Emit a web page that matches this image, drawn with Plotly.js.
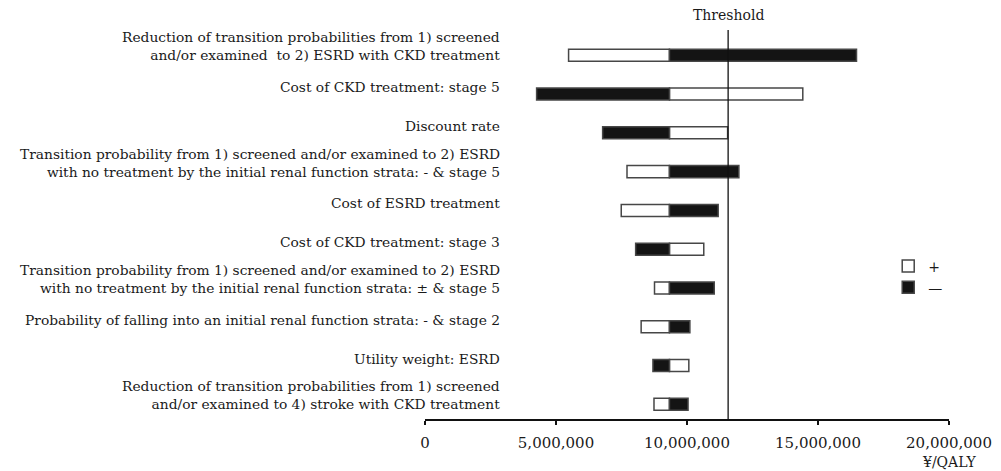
<!DOCTYPE html>
<html>
<head>
<meta charset="utf-8">
<script src="https://cdn.plot.ly/plotly-3.0.1.min.js"></script>
<style>
  html, body { margin: 0; padding: 0; background: #fff; }
  #chart { width: 1001px; height: 471px; }
</style>
</head>
<body>
<div id="chart"></div>
<script>
// Parameters (top to bottom)
const categories = [
  "Reduction of transition probabilities from 1) screened<br>and/or examined  to 2) ESRD with CKD treatment",
  "Cost of CKD treatment: stage 5",
  "Discount rate",
  "Transition probability from 1) screened and/or examined to 2) ESRD<br>with no treatment by the initial renal function strata: - & stage 5",
  "Cost of ESRD treatment",
  "Cost of CKD treatment: stage 3",
  "Transition probability from 1) screened and/or examined to 2) ESRD<br>with no treatment by the initial renal function strata: ± & stage 5",
  "Probability of falling into an initial renal function strata: - & stage 2",
  "Utility weight: ESRD",
  "Reduction of transition probabilities from 1) screened<br>and/or examined to 4) stroke with CKD treatment"
];
// ICER (yen/QALY) at the "+" and "−" ends of each parameter range
const plusValues  = [5480000, 14420000, 11550000, 7710000, 7490000, 10640000, 8760000, 8250000, 10070000, 8740000];
const minusValues = [16470000, 4260000, 6780000, 11980000, 11190000, 8040000, 11040000, 10110000, 8700000, 10040000];
const baseValue = 9330000;
const threshold = 11570000;
const xTicks = [0, 5000000, 10000000, 15000000, 20000000];
const legendNames = ["+", "\u2014"];
const xUnit = "¥/QALY";
const thresholdLabel = "Threshold";

const FONT = "DejaVu Serif, Liberation Serif, serif";
const n = categories.length;
const yPos = categories.map((_, i) => n - 1 - i);

const traces = [
  {
    type: "bar", orientation: "h", name: legendNames[0],
    y: yPos, x: plusValues.map(v => v - baseValue), base: plusValues.map(() => baseValue),
    width: 0.31,
    marker: { color: "#ffffff", line: { color: "#474747", width: 1.5 } },
    hoverinfo: "skip"
  },
  {
    type: "bar", orientation: "h", name: legendNames[1],
    y: yPos, x: minusValues.map(v => v - baseValue), base: minusValues.map(() => baseValue),
    width: 0.31,
    marker: { color: "#141414", line: { color: "#474747", width: 1.5 } },
    hoverinfo: "skip"
  }
];

const annotations = categories.map((c, i) => ({
  xref: "paper", yref: "y", x: 0.147, y: yPos[i],
  xanchor: "right", yanchor: "middle", align: "right",
  text: c, showarrow: false,
  yshift: c.indexOf("<br>") >= 0 ? 9 : 7,
  font: { family: FONT, size: 13.8, color: "#1a1a1a" }
}));
annotations.push({
  xref: "x", yref: "paper", x: threshold, y: 1, yanchor: "bottom", xanchor: "center",
  text: thresholdLabel, showarrow: false, yshift: 5,
  font: { family: FONT, size: 14, color: "#1a1a1a" }
});
annotations.push({
  xref: "x", yref: "paper", x: xTicks[xTicks.length - 1], y: 0, yanchor: "middle", xanchor: "center",
  text: xUnit, showarrow: false, yshift: -43,
  font: { family: FONT, size: 14, color: "#1a1a1a" }
});

const layout = {
  width: 1001, height: 471,
  margin: { l: 425, r: 52, t: 30, b: 52, autoexpand: false },
  paper_bgcolor: "#fff", plot_bgcolor: "#fff",
  barmode: "overlay",
  showlegend: true,
  legend: {
    x: 0.884, y: 0.365, xanchor: "left", yanchor: "middle",
    bgcolor: "rgba(0,0,0,0)",
    font: { family: FONT, size: 14, color: "#1a1a1a" },
    itemwidth: 30, tracegroupgap: 0
  },
  xaxis: {
    range: [0, 20000000], tickvals: xTicks, tickformat: ",d",
    showline: true, linecolor: "#111", linewidth: 2,
    ticks: "outside", ticklen: 4, tickwidth: 1.5, tickcolor: "#111",
    ticklabelstandoff: 5,
    showgrid: false, zeroline: false,
    tickfont: { family: FONT, size: 15, color: "#1a1a1a" }
  },
  yaxis: {
    range: [-0.379, 9.652], visible: false, showgrid: false, zeroline: false
  },
  shapes: [{
    type: "line", xref: "x", yref: "paper", x0: threshold, x1: threshold, y0: 0, y1: 1,
    line: { color: "#111", width: 1.3 }
  }],
  annotations: annotations
};

Plotly.newPlot("chart", traces, layout, { displayModeBar: false, staticPlot: true });
</script>
</body>
</html>
